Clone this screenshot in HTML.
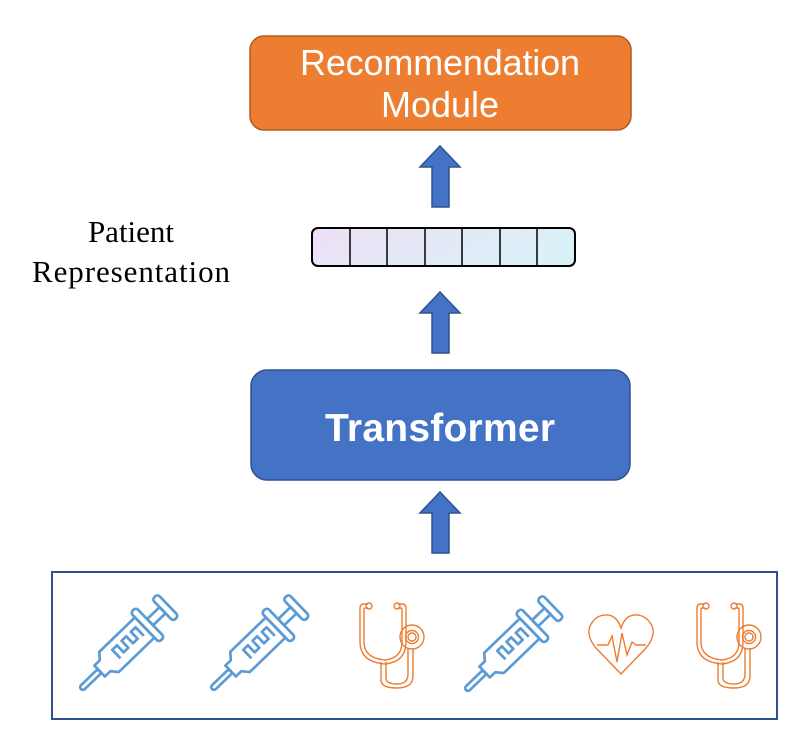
<!DOCTYPE html>
<html><head><meta charset="utf-8"><style>
html,body{margin:0;padding:0;background:#fff;}
svg{display:block;}
</style></head><body>
<svg width="802" height="746" viewBox="0 0 802 746" xmlns="http://www.w3.org/2000/svg">
<defs>
<linearGradient id="g" x1="0" y1="0" x2="1" y2="0.3">
<stop offset="0" stop-color="#efdff6"/><stop offset="1" stop-color="#daf1f8"/>
</linearGradient>
<g id="arrow">
<path d="M0,0 L20,21 L9,21 L9,61 L-8,61 L-8,21 L-20,21 Z" fill="#4472c4" stroke="#2f528f" stroke-width="1.5"/>
</g>
<g id="syr" fill="none" stroke="#5b9bd5" stroke-width="2.5" stroke-linejoin="round">
<rect x="0" y="-2.5" width="24" height="5" rx="2.5"/>
<path d="M24,-7 L31,-7 L36,-13 L82,-13 L82,13 L36,13 L31,7 L24,7 Z"/>
<rect x="82" y="-19" width="7" height="38" rx="3"/>
<rect x="89" y="-4" width="16" height="8"/>
<rect x="105" y="-14" width="7" height="28" rx="3"/>
<path d="M46,5 L46,-6 L52,-6 L52,3 L58,3 L58,-6 L64,-6 L64,3 L70,3 L70,-6 L76,-6 L76,5"/>
</g>
<g id="steth" fill="none" stroke="#ed7d31" stroke-width="1.4">
<path d="M8,2 L4,2 Q0,2 0,6 L0,40 Q0,60 25,62 Q46,60 46,40 L46,6 Q46,2 42,2 L38,2"/>
<path d="M8,6 L6,6 Q4,6 4,8 L4,40 Q4,56 25,58 Q42,56 42,40 L42,8 Q42,6 40,6 L38,6"/>
<circle cx="9" cy="4" r="3"/><circle cx="37" cy="4" r="3"/>
<path d="M21,60 L21,78 Q21,86 37,86 Q53,86 53,74 L53,46"/>
<path d="M26,60 L26,76 Q26,82 37,82 Q48,82 48,72 L48,46"/>
<circle cx="52" cy="35" r="12"/><circle cx="52" cy="35" r="6.5"/><circle cx="52" cy="35" r="4"/>
</g>
</defs>

<rect x="250" y="36" width="381" height="94" rx="14" fill="#ed7d31" stroke="#ae5a21" stroke-width="1.5"/>
<text x="440" y="75" text-anchor="middle" font-family="'Liberation Sans',sans-serif" font-size="36" fill="#fff" textLength="280">Recommendation</text>
<text x="440" y="117" text-anchor="middle" font-family="'Liberation Sans',sans-serif" font-size="36" fill="#fff">Module</text>

<use href="#arrow" x="440" y="146"/>

<text x="131" y="242" text-anchor="middle" font-family="'Liberation Serif',serif" font-size="31" fill="#000">Patient</text>
<text x="131" y="282" text-anchor="middle" font-family="'Liberation Serif',serif" font-size="31" fill="#000" textLength="198">Representation</text>

<rect x="312" y="228" width="263" height="38" rx="6" fill="url(#g)" stroke="#000" stroke-width="2"/>
<g stroke="#000" stroke-width="1.5">
<line x1="350" y1="228" x2="350" y2="266"/><line x1="387" y1="228" x2="387" y2="266"/>
<line x1="425" y1="228" x2="425" y2="266"/><line x1="462" y1="228" x2="462" y2="266"/>
<line x1="500" y1="228" x2="500" y2="266"/><line x1="537" y1="228" x2="537" y2="266"/>
</g>

<use href="#arrow" x="440" y="292"/>

<rect x="251" y="370" width="379" height="110" rx="16" fill="#4472c4" stroke="#2f528f" stroke-width="1.5"/>
<text x="440" y="441" text-anchor="middle" font-family="'Liberation Sans',sans-serif" font-weight="bold" font-size="39" fill="#fff" textLength="230">Transformer</text>

<use href="#arrow" x="440" y="492"/>

<rect x="52" y="572" width="725" height="147" fill="none" stroke="#2f528f" stroke-width="2"/>

<use href="#syr" transform="translate(81,689) rotate(-44) scale(1.08)"/>
<use href="#syr" transform="translate(212,689) rotate(-44) scale(1.08)"/>
<use href="#syr" transform="translate(466,690) rotate(-44) scale(1.08)"/>

<use href="#steth" transform="translate(360,602)"/>
<use href="#steth" transform="translate(697,602)"/>

<g fill="none" stroke="#ed7d31" stroke-width="1.4">
<path d="M621,674 L596,648 Q586,636 590,626 Q596,614 608,615 Q617,616 621,628 Q625,616 634,615 Q646,614 652,626 Q656,636 646,648 Z"/>
<path d="M597,645 L608,645 L612,636 L617,662 L622,633 L627,655 L632,642 L636,645 L646,645"/>
</g>
</svg>
</body></html>
